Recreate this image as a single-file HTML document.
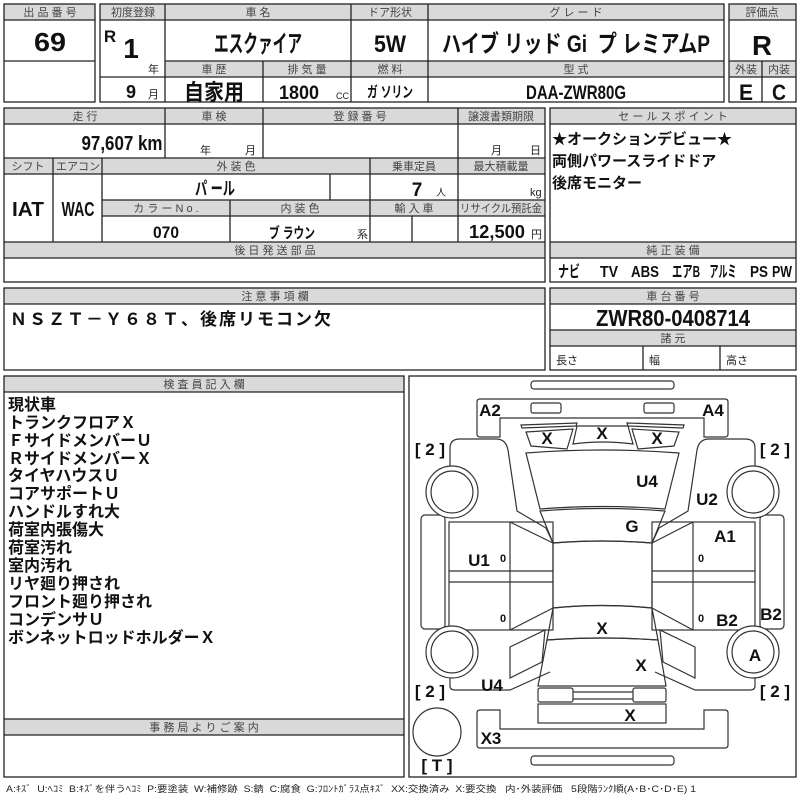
<!DOCTYPE html>
<html><head><meta charset="utf-8"><style>
html,body{margin:0;padding:0;background:#fff;}
svg{display:block;}
.h{font-family:"Liberation Sans","Noto Sans CJK JP",sans-serif;font-size:11px;fill:#444;text-anchor:middle;}
.b{font-family:"Liberation Sans","Noto Sans CJK JP",sans-serif;font-weight:bold;fill:#111;text-anchor:middle;}
.j{font-family:"Liberation Sans","Noto Sans CJK JP",sans-serif;font-weight:bold;fill:#111;}
.s{font-family:"Liberation Sans","Noto Sans CJK JP",sans-serif;fill:#222;}
.pre{white-space:pre;}
</style></head><body>
<svg width="800" height="800" viewBox="0 0 800 800" xmlns="http://www.w3.org/2000/svg">
<g fill="#d9d9d9" stroke="none">
<rect x="4" y="4" width="91" height="16"/>
<rect x="100" y="4" width="624" height="16"/>
<rect x="165" y="61" width="559" height="16"/>
<rect x="729" y="4" width="67" height="16"/>
<rect x="729" y="61" width="67" height="16"/>
<rect x="4" y="108" width="541" height="16"/>
<rect x="4" y="158" width="541" height="16"/>
<rect x="102" y="200" width="443" height="16"/>
<rect x="4" y="242" width="541" height="16"/>
<rect x="550" y="108" width="246" height="16"/>
<rect x="550" y="242" width="246" height="16"/>
<rect x="4" y="288" width="541" height="16"/>
<rect x="550" y="288" width="246" height="16"/>
<rect x="550" y="330" width="246" height="16"/>
<rect x="4" y="376" width="400" height="16"/>
<rect x="4" y="719" width="400" height="16"/>
</g>
<g fill="none" stroke="#222" stroke-width="1.3">
<rect x="4" y="4" width="91" height="98"/>
<line x1="4" y1="20" x2="95" y2="20"/><line x1="4" y1="61" x2="95" y2="61"/>
<rect x="100" y="4" width="624" height="98"/>
<line x1="100" y1="20" x2="724" y2="20"/>
<line x1="165" y1="61" x2="724" y2="61"/><line x1="165" y1="77" x2="724" y2="77"/>
<line x1="100" y1="77" x2="165" y2="77"/>
<line x1="165" y1="4" x2="165" y2="102"/><line x1="351" y1="4" x2="351" y2="102"/><line x1="428" y1="4" x2="428" y2="102"/>
<line x1="263" y1="61" x2="263" y2="102"/>
<rect x="729" y="4" width="67" height="98"/>
<line x1="729" y1="20" x2="796" y2="20"/><line x1="729" y1="61" x2="796" y2="61"/><line x1="729" y1="77" x2="796" y2="77"/>
<line x1="762" y1="61" x2="762" y2="102"/>

<rect x="4" y="108" width="541" height="174"/>
<line x1="4" y1="124" x2="545" y2="124"/><line x1="4" y1="158" x2="545" y2="158"/><line x1="4" y1="174" x2="545" y2="174"/>
<line x1="102" y1="200" x2="545" y2="200"/><line x1="102" y1="216" x2="545" y2="216"/>
<line x1="4" y1="242" x2="545" y2="242"/><line x1="4" y1="258" x2="545" y2="258"/>
<line x1="165" y1="108" x2="165" y2="158"/><line x1="263" y1="108" x2="263" y2="158"/><line x1="458" y1="108" x2="458" y2="242"/>
<line x1="53" y1="158" x2="53" y2="242"/><line x1="102" y1="158" x2="102" y2="242"/><line x1="370" y1="158" x2="370" y2="242"/>
<line x1="330" y1="174" x2="330" y2="200"/><line x1="230" y1="200" x2="230" y2="242"/><line x1="412" y1="216" x2="412" y2="242"/>

<rect x="550" y="108" width="246" height="174"/>
<line x1="550" y1="124" x2="796" y2="124"/><line x1="550" y1="242" x2="796" y2="242"/><line x1="550" y1="258" x2="796" y2="258"/>

<rect x="4" y="288" width="541" height="82"/><line x1="4" y1="304" x2="545" y2="304"/>
<rect x="550" y="288" width="246" height="82"/>
<line x1="550" y1="304" x2="796" y2="304"/><line x1="550" y1="330" x2="796" y2="330"/><line x1="550" y1="346" x2="796" y2="346"/>
<line x1="643" y1="346" x2="643" y2="370"/><line x1="720" y1="346" x2="720" y2="370"/>

<rect x="4" y="376" width="400" height="401"/>
<line x1="4" y1="392" x2="404" y2="392"/><line x1="4" y1="719" x2="404" y2="719"/><line x1="4" y1="735" x2="404" y2="735"/>
<rect x="409" y="376" width="387" height="401"/>
</g>

<text class="h" x="50" y="16">出 品 番 号</text>
<text class="h" x="133" y="16">初度登録</text>
<text class="h" x="258" y="16">車 名</text>
<text class="h" x="390" y="16">ドア形状</text>
<text class="h" x="576" y="16">グ レ ー ド</text>
<text class="h" x="762" y="16">評価点</text>
<text class="h" x="214" y="73">車 歴</text>
<text class="h" x="307" y="73">排 気 量</text>
<text class="h" x="390" y="73">燃 料</text>
<text class="h" x="576" y="73">型 式</text>
<text class="h" x="746" y="73">外装</text>
<text class="h" x="779" y="73">内装</text>
<text class="h" x="85" y="120">走 行</text>
<text class="h" x="214" y="120">車 検</text>
<text class="h" x="360" y="120">登 録 番 号</text>
<text class="h" x="501" y="120">譲渡書類期限</text>
<text class="h" x="28" y="170">シフト</text>
<text class="h" x="78" y="170">エアコン</text>
<text class="h" x="236" y="170">外 装 色</text>
<text class="h" x="414" y="170">乗車定員</text>
<text class="h" x="501" y="170">最大積載量</text>
<text class="h" x="166" y="212">カ ラ ー N o .</text>
<text class="h" x="300" y="212">内 装 色</text>
<text class="h" x="414" y="212">輸 入 車</text>
<text class="h" x="501" y="212" textLength="82" lengthAdjust="spacingAndGlyphs">リサイクル預託金</text>
<text class="h" x="275" y="254">後 日 発 送 部 品</text>
<text class="h" x="673" y="120">セ ー ル ス ポ イ ン ト</text>
<text class="h" x="673" y="254">純 正 装 備</text>
<text class="h" x="275" y="300">注 意 事 項 欄</text>
<text class="h" x="673" y="300">車 台 番 号</text>
<text class="h" x="673" y="342">諸 元</text>
<text class="h" x="204" y="388">検 査 員 記 入 欄</text>
<text class="h" x="204" y="731">事 務 局 よ り ご 案 内</text>

<text class="b" x="50" y="51" font-size="26" textLength="32" lengthAdjust="spacingAndGlyphs">69</text>
<text class="b" x="110" y="42" font-size="17">R</text>
<text class="b" x="131" y="58" font-size="28">1</text>
<text class="s" x="148" y="73" font-size="11">年</text>
<text class="b" x="131" y="98" font-size="18">9</text>
<text class="s" x="148" y="98" font-size="11">月</text>
<text class="b" x="258" y="52" font-size="24" textLength="88" lengthAdjust="spacingAndGlyphs">エスクァイア</text>
<text class="b" x="390" y="52" font-size="24" textLength="32" lengthAdjust="spacingAndGlyphs">5W</text>
<text class="b pre" x="576" y="52" font-size="24" textLength="268" lengthAdjust="spacingAndGlyphs">ハイブ リッド Gi  プ レミアムP</text>
<text class="b" x="762" y="55" font-size="28" textLength="20" lengthAdjust="spacingAndGlyphs">R</text>
<text class="b" x="214" y="100" font-size="22" textLength="60" lengthAdjust="spacingAndGlyphs">自家用</text>
<text class="b" x="299" y="99" font-size="19" textLength="40" lengthAdjust="spacingAndGlyphs">1800</text>
<text class="s" x="336" y="99" font-size="9">CC</text>
<text class="b" x="390" y="97" font-size="15" textLength="46" lengthAdjust="spacingAndGlyphs">ガ ソリン</text>
<text class="b" x="576" y="99" font-size="19" textLength="100" lengthAdjust="spacingAndGlyphs">DAA-ZWR80G</text>
<text class="b" x="746" y="100" font-size="22" textLength="14" lengthAdjust="spacingAndGlyphs">E</text>
<text class="b" x="779" y="100" font-size="22" textLength="14" lengthAdjust="spacingAndGlyphs">C</text>

<text class="b" x="122" y="150" font-size="20" textLength="81" lengthAdjust="spacingAndGlyphs">97,607 km</text>
<text class="s" x="200" y="154" font-size="11">年</text>
<text class="s" x="245" y="154" font-size="11">月</text>
<text class="s" x="491" y="154" font-size="11">月</text>
<text class="s" x="530" y="154" font-size="11">日</text>
<text class="b" x="28" y="216" font-size="20" textLength="32" lengthAdjust="spacingAndGlyphs">IAT</text>
<text class="b" x="78" y="216" font-size="20" textLength="33" lengthAdjust="spacingAndGlyphs">WAC</text>
<text class="b" x="215" y="195" font-size="18" textLength="40" lengthAdjust="spacingAndGlyphs">パ ール</text>
<text class="b" x="417" y="196" font-size="19">7</text>
<text class="s" x="436" y="196" font-size="10">人</text>
<text class="s" x="530" y="196" font-size="11">kg</text>
<text class="b" x="166" y="238" font-size="17" textLength="26" lengthAdjust="spacingAndGlyphs">070</text>
<text class="b" x="292" y="238" font-size="15" textLength="46" lengthAdjust="spacingAndGlyphs">ブ ラウン</text>
<text class="s" x="357" y="238" font-size="11">系</text>
<text class="b" x="497" y="238" font-size="18" textLength="56" lengthAdjust="spacingAndGlyphs">12,500</text>
<text class="s" x="531" y="238" font-size="11">円</text>
<text class="j" x="552" y="144" font-size="15">★オークションデビュー★</text>
<text class="j" x="552" y="166" font-size="15">両側パワースライドドア</text>
<text class="j" x="552" y="188" font-size="15">後席モニター</text>
<g class="b" font-size="16">
<text x="569" y="277" textLength="22" lengthAdjust="spacingAndGlyphs">ナビ</text>
<text x="609" y="277" textLength="18" lengthAdjust="spacingAndGlyphs">TV</text>
<text x="645" y="277" textLength="28" lengthAdjust="spacingAndGlyphs">ABS</text>
<text x="686" y="277" textLength="28" lengthAdjust="spacingAndGlyphs">エアB</text>
<text x="723" y="277" textLength="27" lengthAdjust="spacingAndGlyphs">アルミ</text>
<text x="759" y="277" textLength="18" lengthAdjust="spacingAndGlyphs">PS</text>
<text x="782" y="277" textLength="20" lengthAdjust="spacingAndGlyphs">PW</text>
</g>
<text class="j" x="10" y="325" font-size="17" letter-spacing="2">ＮＳＺＴ－Ｙ６８Ｔ、後席リモコン欠</text>
<text class="b" x="673" y="326" font-size="23" textLength="154" lengthAdjust="spacingAndGlyphs">ZWR80-0408714</text>
<text class="s" x="556" y="364" font-size="11">長さ</text>
<text class="s" x="649" y="364" font-size="11">幅</text>
<text class="s" x="726" y="364" font-size="11">高さ</text>

<g class="j" font-size="16">
<text x="8" y="410">現状車</text>
<text x="8" y="428">トランクフロアＸ</text>
<text x="8" y="446">ＦサイドメンバーＵ</text>
<text x="8" y="464">ＲサイドメンバーＸ</text>
<text x="8" y="481">タイヤハウスＵ</text>
<text x="8" y="499">コアサポートＵ</text>
<text x="8" y="517">ハンドルすれ大</text>
<text x="8" y="535">荷室内張傷大</text>
<text x="8" y="553">荷室汚れ</text>
<text x="8" y="571">室内汚れ</text>
<text x="8" y="589">リヤ廻り押され</text>
<text x="8" y="607">フロント廻り押され</text>
<text x="8" y="625">コンデンサＵ</text>
<text x="8" y="643">ボンネットロッドホルダーＸ</text>
</g>
<text class="s pre" x="6" y="792" font-size="9" textLength="690" lengthAdjust="spacingAndGlyphs">A:ｷｽﾞ  U:ﾍｺﾐ  B:ｷｽﾞを伴うﾍｺﾐ  P:要塗装  W:補修跡  S:錆  C:腐食  G:ﾌﾛﾝﾄｶﾞﾗｽ点ｷｽﾞ  XX:交換済み  X:要交換   内･外装評価   5段階ﾗﾝｸ順(A･B･C･D･E) 1</text>

<g fill="none" stroke="#333" stroke-width="1.2">
<rect x="531" y="381" width="143" height="8" rx="3"/>
<rect x="531" y="756" width="143" height="9" rx="3"/>
<path d="M480 399 H725 Q728 399 728 402 V434 Q728 437 725 437 H704 V418 H500 V437 H480 Q477 437 477 434 V402 Q477 399 480 399Z"/>
<rect x="531" y="403" width="30" height="10" rx="2"/>
<rect x="644" y="403" width="30" height="10" rx="2"/>
<path d="M480 748 H725 Q728 748 728 745 V713 Q728 710 725 710 H704 V729 H500 V710 H480 Q477 710 477 713 V745 Q477 748 480 748Z"/>
<path d="M521 425 L577 423 L576 426 L522 428Z"/>
<path d="M627 423 L684 425 L683 428 L628 426Z"/>
<path d="M526 432 L573 429 L567 449 L531 446Z"/>
<path d="M577 426 L628 426 L633 444 Q602 440 573 444Z"/>
<path d="M632 429 L679 432 L674 446 L638 449Z"/>
<path d="M526 453 Q602 447 679 453 L665 509 Q602 504 540 509Z"/>
<path d="M540 511 Q602 506 665 511 L652 543 Q602 539 553 543Z"/>
<path d="M553 543 Q602 539 652 543 V608 Q602 603 553 608Z"/>
<path d="M553 608 Q602 603 652 608 L658 640 Q602 636 547 640Z"/>
<path d="M547 640 Q602 636 658 640 L666 686 H538Z"/>
<rect x="538" y="688" width="35" height="14" rx="2"/>
<rect x="633" y="688" width="33" height="14" rx="2"/>
<line x1="573" y1="692" x2="633" y2="692"/><line x1="573" y1="699" x2="633" y2="699"/>
<rect x="538" y="704" width="128" height="19"/>
<path d="M450 466 V448 Q450 439 460 439 H496 Q506 439 508 450 L517 511 L546 528 L553 543"/>
<path d="M755 466 V448 Q755 439 745 439 H709 Q699 439 697 450 L688 511 L659 528 L652 543"/>
<path d="M450 678 V686 Q450 690 455 690 H510 L550 672"/>
<path d="M510 647 L545 630 L542 662 L510 678Z"/>
<path d="M755 678 V686 Q755 690 750 690 H695 L655 672"/>
<path d="M695 647 L660 630 L663 662 L695 678Z"/>
<rect x="449" y="522" width="104" height="108"/>
<line x1="510" y1="522" x2="510" y2="630"/>
<line x1="449" y1="571" x2="553" y2="571"/><line x1="449" y1="582" x2="553" y2="582"/>
<line x1="510" y1="522" x2="553" y2="543"/><line x1="510" y1="630" x2="553" y2="608"/>
<rect x="652" y="522" width="103" height="108"/>
<line x1="693" y1="522" x2="693" y2="630"/>
<line x1="652" y1="571" x2="755" y2="571"/><line x1="652" y1="582" x2="755" y2="582"/>
<line x1="693" y1="522" x2="652" y2="543"/><line x1="693" y1="630" x2="652" y2="608"/>
<rect x="421" y="515" width="24" height="114" rx="4"/>
<rect x="760" y="515" width="24" height="114" rx="4"/>
<circle cx="452" cy="492" r="26" fill="#fff"/><circle cx="452" cy="492" r="21"/>
<circle cx="753" cy="492" r="26" fill="#fff"/><circle cx="753" cy="492" r="21"/>
<circle cx="452" cy="652" r="26" fill="#fff"/><circle cx="452" cy="652" r="21"/>
<circle cx="753" cy="652" r="26" fill="#fff"/><circle cx="753" cy="652" r="21"/>
<circle cx="437" cy="732" r="24"/>
</g>
<g class="b" font-size="17">
<text x="490" y="416">A2</text><text x="713" y="416">A4</text>
<text x="547" y="444">X</text><text x="602" y="439">X</text><text x="657" y="444">X</text>
<text x="647" y="487">U4</text><text x="707" y="505">U2</text><text x="632" y="532">G</text>
<text x="725" y="542">A1</text><text x="479" y="566">U1</text>
<text x="771" y="620">B2</text><text x="727" y="626">B2</text>
<text x="602" y="634">X</text><text x="755" y="661">A</text><text x="641" y="671">X</text>
<text x="492" y="691">U4</text><text x="630" y="721">X</text><text x="491" y="744">X3</text>
</g>
<g class="b" font-size="11"><text x="503" y="562">0</text><text x="503" y="622">0</text><text x="701" y="562">0</text><text x="701" y="622">0</text></g>
<g class="b" font-size="17">
<text x="430" y="455">[ 2 ]</text><text x="775" y="455">[ 2 ]</text>
<text x="430" y="697">[ 2 ]</text><text x="775" y="697">[ 2 ]</text>
<text x="437" y="771">[ T ]</text>
</g>
</svg>
</body></html>
